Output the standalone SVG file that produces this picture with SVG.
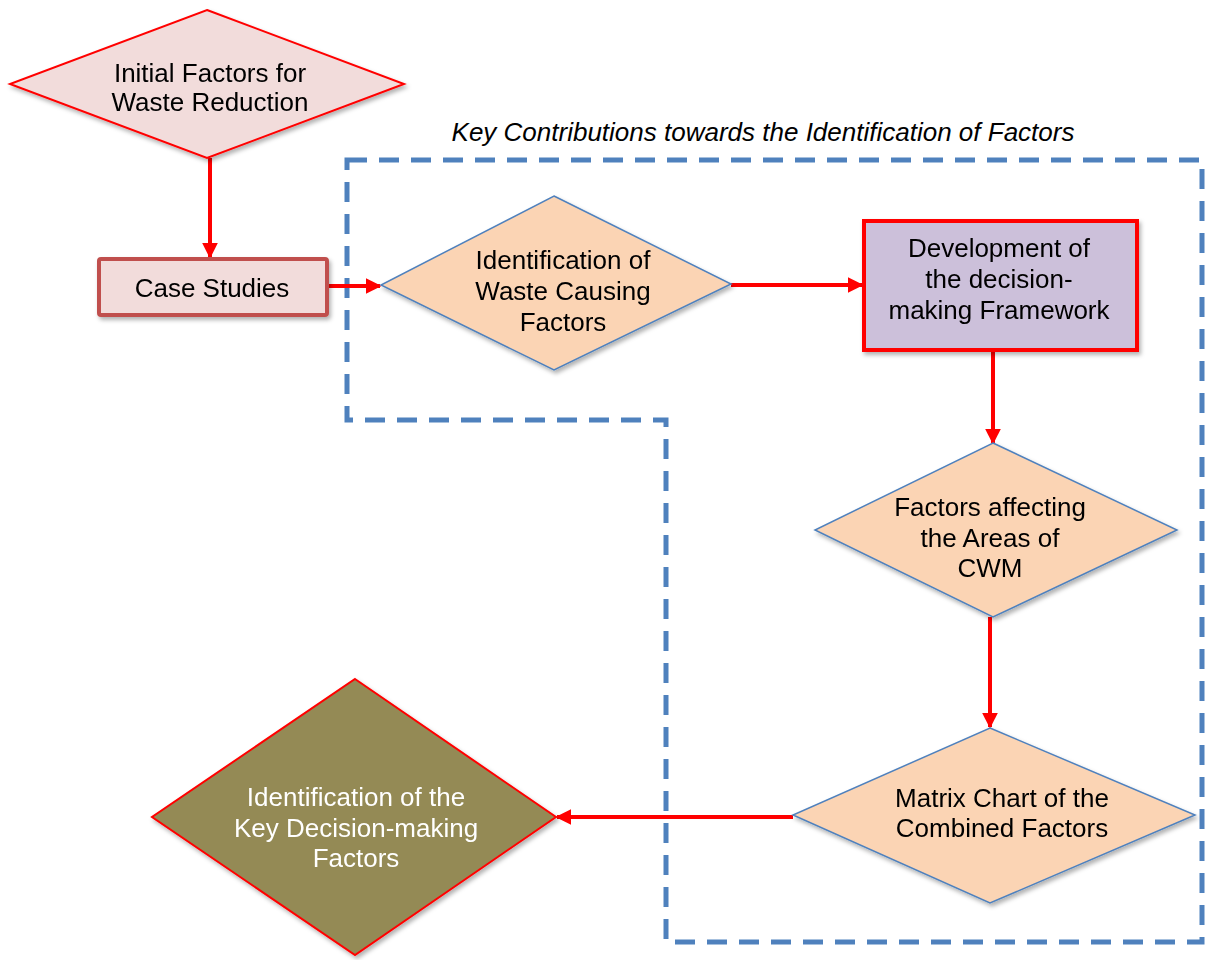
<svg xmlns="http://www.w3.org/2000/svg" width="1213" height="960" viewBox="0 0 1213 960">
<style>
.t{font-family:"Liberation Sans",Arial,sans-serif;font-size:26px;fill:#000;text-anchor:middle}
.w{fill:#fff}
.c{stroke:#ff0000;stroke-width:4;fill:none}
.bd{fill:#fbd4b4;stroke:#4f81bd;stroke-width:1.5}
</style>
<defs>
<marker id="ah" viewBox="0 0 10 10" refX="9" refY="5" markerWidth="4" markerHeight="4" markerUnits="strokeWidth" orient="auto">
<path d="M0,0 L10,5 L0,10 z" fill="#ff0000"/>
</marker>
<filter id="sh" x="-10%" y="-10%" width="130%" height="130%">
<feDropShadow dx="2" dy="3" stdDeviation="2" flood-color="#000" flood-opacity="0.3"/>
</filter>
</defs>
<rect width="1213" height="960" fill="#fff"/>
<g id="boundary">
<polygon points="347,160 1202,160 1202,942 666,942 666,420 347,420" fill="none" stroke="#4f81bd" stroke-width="5" stroke-dasharray="20,12"/>
<text class="t" x="763" y="141" font-style="italic">Key Contributions towards the Identification of Factors</text>
</g>
<g id="connectors">
<line class="c" x1="210" y1="158" x2="210" y2="257" marker-end="url(#ah)"/>
<line class="c" x1="328" y1="286" x2="380" y2="286" marker-end="url(#ah)"/>
<line class="c" x1="731" y1="285" x2="862" y2="285" marker-end="url(#ah)"/>
<line class="c" x1="993" y1="351" x2="993" y2="443" marker-end="url(#ah)"/>
<line class="c" x1="990" y1="617" x2="990" y2="727" marker-end="url(#ah)"/>
<line class="c" x1="793" y1="817" x2="557" y2="817" marker-end="url(#ah)"/>
</g>
<g id="n1" filter="url(#sh)">
<polygon points="207,10 404,84 207,158 10,84" fill="#f2dcdb" stroke="#ff0000" stroke-width="2"/>
<text class="t" x="210" y="82">Initial Factors for</text>
<text class="t" x="210" y="111">Waste Reduction</text>
</g>
<g id="n2" filter="url(#sh)">
<rect x="99" y="259" width="228" height="56" rx="2" fill="#f2dcdb" stroke="#c0504d" stroke-width="4"/>
<text class="t" x="212" y="297">Case Studies</text>
</g>
<g id="n3" filter="url(#sh)">
<polygon class="bd" points="554,196 731,284 554,370 381,285"/>
<text class="t" x="563" y="269">Identification of</text>
<text class="t" x="563" y="300">Waste Causing</text>
<text class="t" x="563" y="331">Factors</text>
</g>
<g id="n4" filter="url(#sh)">
<rect x="864" y="221" width="273" height="129" fill="#ccc0da" stroke="#ff0000" stroke-width="4"/>
<text class="t" x="999" y="257">Development of</text>
<text class="t" x="999" y="288">the decision-</text>
<text class="t" x="999" y="319">making Framework</text>
</g>
<g id="n5" filter="url(#sh)">
<polygon class="bd" points="993,443 1177,530 993,617 815,530"/>
<text class="t" x="990" y="516">Factors affecting</text>
<text class="t" x="990" y="547">the Areas of</text>
<text class="t" x="990" y="577">CWM</text>
</g>
<g id="n6" filter="url(#sh)">
<polygon class="bd" points="990,728 1195,815 990,903 793,815"/>
<text class="t" x="1002" y="807">Matrix Chart of the</text>
<text class="t" x="1002" y="837">Combined Factors</text>
</g>
<g id="n7" filter="url(#sh)">
<polygon points="355,679 556,817 355,955 152,817" fill="#948a54" stroke="#ff0000" stroke-width="2"/>
<text class="t w" x="356" y="806">Identification of the</text>
<text class="t w" x="356" y="837">Key Decision-making</text>
<text class="t w" x="356" y="867">Factors</text>
</g>
</svg>
